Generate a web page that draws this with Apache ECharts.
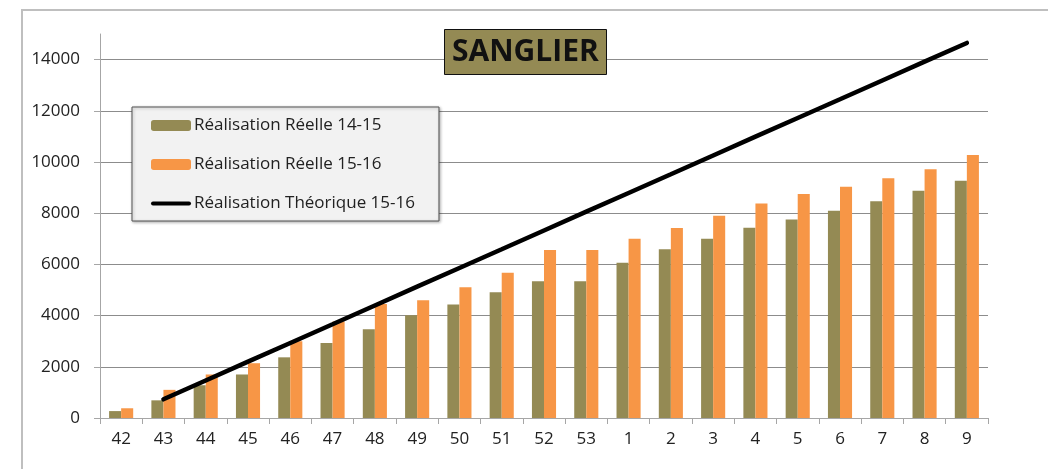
<!DOCTYPE html>
<html>
<head>
<meta charset="utf-8">
<script src="https://cdn.jsdelivr.net/npm/echarts@6/dist/echarts.min.js"></script>
<style>
html,body{margin:0;padding:0;background:#fff;}
#chart{width:1048px;height:469px;}
</style>
</head>
<body>
<div id="chart"></div>
<script>
const categories = ['42','43','44','45','46','47','48','49','50','51','52','53','1','2','3','4','5','6','7','8','9'];
const reelle1415 = [270, 690, 1280, 1700, 2370, 2930, 3470, 4010, 4430, 4910, 5340, 5340, 6060, 6590, 7000, 7430, 7750, 8100, 8470, 8880, 9270];
const reelle1516 = [380, 1100, 1700, 2140, 3000, 3770, 4450, 4600, 5110, 5670, 6560, 6560, 7000, 7420, 7900, 8380, 8750, 9030, 9370, 9720, 10270];
const theorique1516 = [null, 730, 1465, 2200, 2930, 3660, 4395, 5130, 5860, 6590, 7325, 8060, 8790, 9520, 10255, 10990, 11720, 12450, 13185, 13920, 14650];
const yTicks = [0, 2000, 4000, 6000, 8000, 10000, 12000, 14000];
const seriesNames = ['Réalisation Réelle 14-15', 'Réalisation Réelle 15-16', 'Réalisation Théorique 15-16'];
const titleText = 'SANGLIER';

const FONT = 'Open Sans';
const lineIcon = 'path://M2,0 L38,0 A2,2 0 0 1 38,4 L2,4 A2,2 0 0 1 2,0 Z';
const chart = echarts.init(document.getElementById('chart'), null, {renderer: 'canvas'});
chart.setOption({
  animation: false,
  backgroundColor: '#fff',
  textStyle: {fontFamily: FONT},
  title: {
    text: titleText,
    left: 444, top: 29,
    padding: [8, 8, 8, 8],
    backgroundColor: '#948A54',
    borderColor: '#111',
    borderWidth: 1,
    textStyle: {fontFamily: FONT, fontSize: 30, fontWeight: 'bold', color: '#111'}
  },
  legend: {
    orient: 'vertical',
    left: 132, top: 107,
    padding: [10, 24, 9, 19],
    itemGap: 22,
    itemWidth: 40, itemHeight: 11,
    backgroundColor: '#f2f2f2',
    borderColor: '#555',
    borderWidth: 1,
    shadowBlur: 3, shadowOffsetX: 1, shadowOffsetY: 1, shadowColor: 'rgba(0,0,0,0.3)',
    textStyle: {fontFamily: FONT, fontSize: 17, color: '#222', padding: [0, 0, 0, -2]},
    data: [
      {name: seriesNames[0]},
      {name: seriesNames[1]},
      {name: seriesNames[2], icon: lineIcon, itemStyle: {color: '#000'}}
    ]
  },
  grid: {left: 100, right: 60, top: 34, bottom: 51, containLabel: false},
  xAxis: {
    type: 'category',
    data: categories,
    axisLine: {lineStyle: {color: '#a6a6a6', width: 1}},
    axisTick: {show: true, length: 6, lineStyle: {color: '#a6a6a6'}},
    axisLabel: {fontFamily: FONT, fontSize: 17, color: '#222', margin: 13, interval: 0}
  },
  yAxis: {
    type: 'value',
    min: 0, max: 15000, interval: 2000,
    axisLine: {show: true, lineStyle: {color: '#a6a6a6', width: 1}},
    axisTick: {show: true, length: 6, lineStyle: {color: '#a6a6a6'}, customValues: yTicks},
    axisLabel: {fontFamily: FONT, fontSize: 17, color: '#222', margin: 20, customValues: yTicks,
      formatter: function (v) { return String(v); }},
    splitLine: {show: true, lineStyle: {color: '#8c8c8c', width: 1}}
  },
  series: [
    {
      name: seriesNames[0], type: 'bar', data: reelle1415,
      barGap: '0%', barCategoryGap: '43%',
      itemStyle: {color: '#948A54'}
    },
    {
      name: seriesNames[1], type: 'bar', data: reelle1516,
      itemStyle: {color: '#F79646'}
    },
    {
      name: seriesNames[2], type: 'line', data: theorique1516,
      symbol: 'none', showSymbol: false,
      lineStyle: {color: '#000', width: 4.5, cap: 'round'},
      itemStyle: {color: '#000'},
      z: 5
    }
  ],
  graphic: [{
    type: 'polyline',
    shape: {points: [[22, 469], [22, 10], [1048, 10]]},
    style: {stroke: '#bfbfbf', lineWidth: 2, fill: null},
    silent: true
  }]
});
</script>
</body>
</html>
